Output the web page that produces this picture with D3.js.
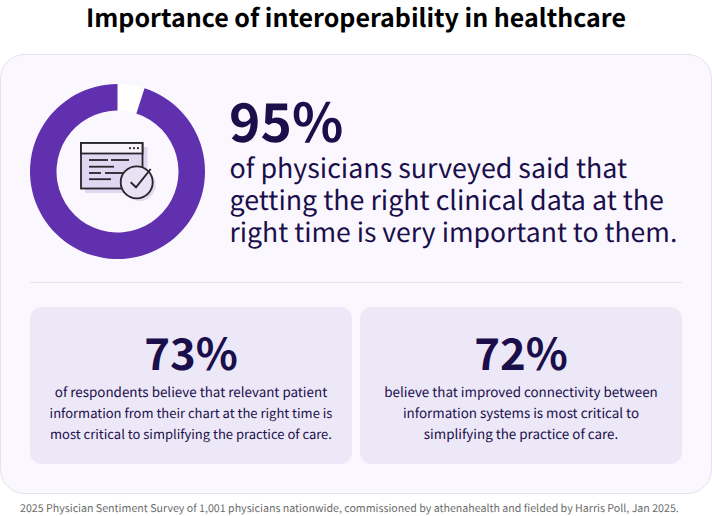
<!DOCTYPE html>
<html><head><meta charset="utf-8">
<script src="https://cdn.jsdelivr.net/npm/d3@7/dist/d3.min.js"></script>
<style>html,body{margin:0;padding:0;background:#fff}svg{display:block}
text{font-family:"Noto Sans CJK SC","Noto Sans CJK JP",sans-serif;text-rendering:geometricPrecision}</style></head><body>
<svg id="c" width="712" height="516"></svg>
<script>
const title = "Importance of interoperability in healthcare";
const donutValues = [5, 95];
const mainLabel = "95%";
const mainLines = ["of physicians surveyed said that","getting the right clinical data at the","right time is very important to them."];
const cardLabels = ["73%","72%"];
const cardLines = [
 ["of respondents believe that relevant patient","information from their chart at the right time is","most critical to simplifying the practice of care."],
 ["believe that improved connectivity between","information systems is most critical to","simplifying the practice of care."]
];
const footnote = "2025 Physician Sentiment Survey of 1,001 physicians nationwide, commissioned by athenahealth and fielded by Harris Poll, Jan 2025.";
const ink = "#1a0f4b";
const svg = d3.select("#c");
svg.append("text").attr("x",356).attr("y",27).attr("text-anchor","middle").attr("font-size",25).attr("font-weight",700).attr("fill","#000").text(title);
svg.append("rect").attr("x",0.5).attr("y",54.5).attr("width",711).attr("height",439).attr("rx",24).attr("fill","#faf8fe").attr("stroke","#e6e0f3");

// donut: gap first, clockwise from 12 o'clock
const pie = d3.pie().sort(null).startAngle(0).endAngle(2*Math.PI);
const arc = d3.arc().innerRadius(61).outerRadius(87.5);
svg.append("g").attr("transform","translate(117.5,171.5)")
  .selectAll("path").data(pie(donutValues)).join("path")
  .attr("d",arc).attr("fill",(d,i)=>i===0?"#ffffff":"#6030ae");

// icon
const ic = svg.append("g").attr("transform","translate(80,142)");
const st = "#26242c", sw = 1.8;
ic.append("rect").attr("x",5).attr("y",5).attr("width",62.5).attr("height",46).attr("fill","#e0d7f0");
ic.append("rect").attr("x",1).attr("y",1).attr("width",61.5).attr("height",45.5).attr("fill","#e0d7f0").attr("stroke",st).attr("stroke-width",sw);
ic.append("rect").attr("x",1).attr("y",1).attr("width",61.5).attr("height",10.5).attr("fill","#f6f3fb").attr("stroke",st).attr("stroke-width",sw);
[49,53,57].forEach(a=>ic.append("rect").attr("x",a).attr("y",5.2).attr("width",1.9).attr("height",1.9).attr("fill",st));
[[9,28,18],[31,49,18],[9,34,24.7],[9,21,31],[25,46,31],[9,31,37.2]].forEach(l=>{
  ic.append("line").attr("x1",l[0]).attr("x2",l[1]).attr("y1",l[2]).attr("y2",l[2]).attr("stroke",st).attr("stroke-width",sw);
});
ic.append("circle").attr("cx",59.5).attr("cy",43).attr("r",16).attr("fill","#e0d7f0");
ic.append("circle").attr("cx",56.7).attr("cy",40.3).attr("r",16).attr("fill","#e8e2f4").attr("stroke",st).attr("stroke-width",sw);
ic.append("path").attr("d","M50.7 40.3 L56 45.3 L70.7 27").attr("fill","none").attr("stroke",st).attr("stroke-width",sw+0.1);

// main text
svg.append("text").attr("x",229).attr("y",142).attr("font-size",53.3).attr("font-weight",700).attr("fill",ink).text(mainLabel);
svg.selectAll(".m").data(mainLines).join("text").attr("class","m").attr("x",229.5)
  .attr("y",(d,i)=>178+i*32).attr("font-size",(d,i)=>i===2?26.55:26.8).attr("fill",ink).text(d=>d);
svg.append("line").attr("x1",30).attr("x2",682).attr("y1",282.5).attr("y2",282.5).attr("stroke","#e6e0f3");

// cards
const cardX = d3.scaleOrdinal().domain([0,1]).range([30,360]);
cardLabels.forEach((lab,i)=>{
  const x=cardX(i), cx=x+161;
  svg.append("rect").attr("x",x).attr("y",307).attr("width",322).attr("height",157).attr("rx",12).attr("fill","#ece8f7");
  svg.append("text").attr("x",cx).attr("y",370).attr("text-anchor","middle").attr("font-size",43.7).attr("font-weight",700).attr("fill",ink).text(lab);
  svg.selectAll(".l"+i).data(cardLines[i]).join("text").attr("class","l"+i).attr("x",cx)
    .attr("y",(d,j)=>397+j*21).attr("text-anchor","middle")
    .attr("font-size",(d,j)=>(i===0&&j>0)?13:13.4).attr("fill",ink).text(d=>d);
});
svg.append("text").attr("x",20).attr("y",512).attr("font-size",10.65).attr("fill","#6b6b6b").text(footnote);
</script></body></html>
